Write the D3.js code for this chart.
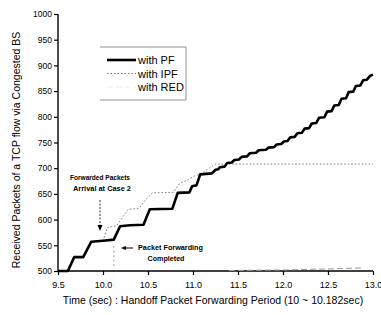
<!DOCTYPE html>
<html>
<head>
<meta charset="utf-8">
<script src="https://cdn.jsdelivr.net/npm/d3@7"></script>
<style>
  body { margin: 0; background: #fff; }
  text { font-family: "Liberation Sans", Arial, sans-serif; fill: #000; }
</style>
</head>
<body>
<script>
// series: [time (sec), received packets]
var pfData = [
  [9.5, 500], [9.61, 500], [9.68, 527], [9.78, 527], [9.87, 557], [10.0, 559],
  [10.12, 561], [10.19, 587], [10.3, 589], [10.45, 590], [10.52, 620], [10.77, 621],
  [10.83, 652], [10.96, 653], [10.99, 665], [11.04, 667], [11.08, 688], [11.21, 690],
  [11.25, 697], [11.28, 698], [11.30, 702], [11.35, 703], [11.38, 710], [11.43, 711],
  [11.46, 716], [11.51, 717], [11.54, 722], [11.60, 723], [11.63, 729], [11.70, 730],
  [11.73, 735], [11.81, 736], [11.84, 740], [11.90, 741], [11.93, 746], [11.98, 747],
  [12.01, 752], [12.05, 753], [12.08, 760], [12.13, 761], [12.16, 768], [12.21, 769],
  [12.24, 777], [12.29, 778], [12.32, 787], [12.37, 788], [12.40, 798], [12.46, 799],
  [12.49, 810], [12.54, 811], [12.57, 822], [12.62, 823], [12.65, 835], [12.70, 836],
  [12.73, 848], [12.78, 849], [12.81, 860], [12.86, 861], [12.89, 871], [12.93, 872],
  [12.97, 880], [13.0, 882]
];
var ipfData = [
  [9.5, 500], [9.61, 500], [9.68, 527], [9.78, 527], [9.87, 557], [10.0, 559],
  [10.05, 585], [10.15, 588], [10.22, 605], [10.28, 620], [10.40, 622], [10.48, 640],
  [10.55, 652], [10.78, 653], [10.85, 670], [10.95, 678], [11.02, 685], [11.10, 690],
  [11.18, 700], [11.25, 708], [13.0, 708]
];
var redData = [
  [11.4, 501], [12.0, 502], [12.5, 504], [12.9, 506]
];
var legendLabels = ['with PF', 'with IPF', 'with RED'];
var xTicks = [9.5, 10.0, 10.5, 11.0, 11.5, 12.0, 12.5, 13.0];
var yTicks = [500, 550, 600, 650, 700, 750, 800, 850, 900, 950, 1000];

var chart = function() {
  var svg;
  var x;
  var y;
  var line;

  var initialize = function() {
    x = d3.scaleLinear().domain([9.5, 13.0]).range([58, 373]);
    y = d3.scaleLinear().domain([500, 1000]).range([271, 14]);
    line = d3.line().x(function(d) { return x(d[0]); }).y(function(d) { return y(d[1]); });
  };

  var createSvg = function() {
    svg = d3.select('body')
      .append('svg')
      .attr('width', 381)
      .attr('height', 315);
  };

  var drawAxes = function() {
    var xMinor = d3.range(9.5, 13.01, 0.25);
    var yMinor = d3.range(500, 1001, 25);

    var gx = svg.append('g').attr('transform', 'translate(0,' + y(500) + ')');
    gx.call(d3.axisBottom(x).tickValues(xMinor).tickSize(2).tickFormat(''));
    gx.call(d3.axisBottom(x).tickValues(xTicks).tickSize(4).tickPadding(7).tickFormat(d3.format('.1f')));
    gx.selectAll('.domain').remove();
    gx.selectAll('text').style('font-size', '9px');
    gx.selectAll('line').attr('stroke-width', 1.2);

    var gy = svg.append('g').attr('transform', 'translate(' + x(9.5) + ',0)');
    gy.call(d3.axisLeft(y).tickValues(yMinor).tickSize(2).tickFormat(''));
    gy.call(d3.axisLeft(y).tickValues(yTicks).tickSize(4).tickPadding(2).tickFormat(d3.format('d')));
    gy.selectAll('.domain').remove();
    gy.selectAll('text').style('font-size', '8.5px');
    gy.selectAll('line').attr('stroke-width', 1.2);

    svg.append('line')
      .attr('x1', x(9.5)).attr('x2', x(13.0))
      .attr('y1', y(500)).attr('y2', y(500))
      .attr('stroke', '#000').attr('stroke-width', 1.6);
    svg.append('line')
      .attr('x1', x(9.5)).attr('x2', x(9.5))
      .attr('y1', y(1000)).attr('y2', y(500))
      .attr('stroke', '#000').attr('stroke-width', 1.4);

    svg.append('text')
      .attr('x', 213).attr('y', 304)
      .attr('text-anchor', 'middle')
      .style('font-size', '10.5px')
      .text('Time (sec) : Handoff Packet Forwarding Period (10 ~ 10.182sec)');

    svg.append('text')
      .attr('transform', 'translate(20,150) rotate(-90)')
      .attr('text-anchor', 'middle')
      .style('font-size', '10.5px')
      .text('Received Packets of a TCP flow via Congested BS');
  };

  var drawSeries = function() {
    svg.append('path').datum(redData)
      .attr('d', line).attr('fill', 'none')
      .attr('stroke', '#999').attr('stroke-width', 1)
      .attr('stroke-dasharray', '6,3');
    svg.append('path').datum(ipfData)
      .attr('d', line).attr('fill', 'none')
      .attr('stroke', '#777').attr('stroke-width', 1)
      .attr('stroke-dasharray', '1.5,2');
    svg.append('path').datum(pfData)
      .attr('d', line).attr('fill', 'none')
      .attr('stroke', '#000').attr('stroke-width', 2.6)
      .attr('stroke-linejoin', 'round');

    // marker where forwarding stops
    svg.append('line')
      .attr('x1', x(10.12)).attr('x2', x(10.12))
      .attr('y1', y(548)).attr('y2', y(510))
      .attr('stroke', '#888').attr('stroke-width', 1)
      .attr('stroke-dasharray', '1.5,3');
  };

  var drawLegend = function() {
    var g = svg.append('g');
    g.append('path')
      .attr('d', 'M100,47 H186 V100 H100')
      .attr('fill', 'none').attr('stroke', '#777').attr('stroke-width', 0.8);

    var rows = [
      { color: '#000', width: 2.6, dash: null },
      { color: '#777', width: 1, dash: '1.5,2' },
      { color: '#eee', width: 1, dash: '6,3' }
    ];
    for(var i = 0; i < legendLabels.length; i++) {
      var yy = 60 + i * 13.5;
      g.append('line')
        .attr('x1', 107).attr('x2', 136)
        .attr('y1', yy).attr('y2', yy)
        .attr('stroke', rows[i].color).attr('stroke-width', rows[i].width)
        .attr('stroke-dasharray', rows[i].dash);
      g.append('text')
        .attr('x', 138).attr('y', yy + 4)
        .style('font-size', '11px')
        .text(legendLabels[i]);
    }
  };

  var drawNotes = function() {
    var note = function(tx, ty, anchor, len, txt) {
      svg.append('text')
        .attr('x', tx).attr('y', ty)
        .attr('text-anchor', anchor)
        .attr('textLength', len).attr('lengthAdjust', 'spacingAndGlyphs')
        .style('font-size', '7.5px').style('font-weight', 'bold')
        .text(txt);
    };
    note(100, 180, 'middle', 60, 'Forwarded Packets');
    note(102, 191, 'middle', 58, 'Arrival at Case 2');
    note(138, 250, 'start', 65, 'Packet Forwarding');
    note(166, 261, 'middle', 37, 'Completed');

    svg.append('line')
      .attr('x1', 100).attr('x2', 100).attr('y1', 200).attr('y2', 226)
      .attr('stroke', '#000').attr('stroke-width', 0.8).attr('stroke-dasharray', '2,1.5');
    svg.append('path').attr('d', 'M97.5,225 L100,231 L102.5,225 Z').attr('fill', '#000');

    svg.append('line')
      .attr('x1', 133).attr('x2', 125).attr('y1', 248).attr('y2', 248)
      .attr('stroke', '#000').attr('stroke-width', 1);
    svg.append('path').attr('d', 'M126,246 L121,248 L126,250 Z').attr('fill', '#000');
  };

  return {
    initialize: initialize,
    createSvg: createSvg,
    drawAxes: drawAxes,
    drawSeries: drawSeries,
    drawLegend: drawLegend,
    drawNotes: drawNotes
  };
}();

chart.initialize();
chart.createSvg();
chart.drawAxes();
chart.drawSeries();
chart.drawLegend();
chart.drawNotes();
</script>
</body>
</html>
